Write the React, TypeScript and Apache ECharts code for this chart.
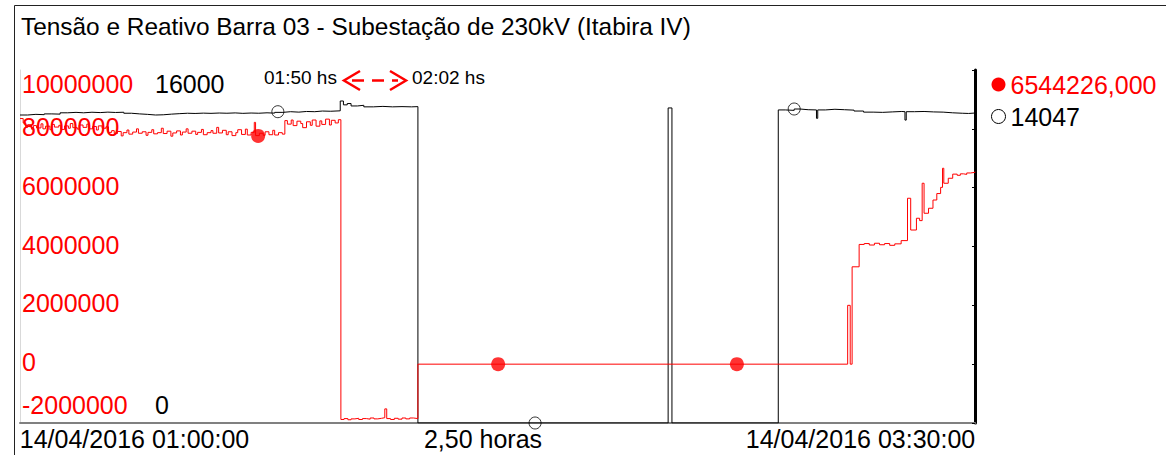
import React, { useEffect, useRef } from 'react';
import * as echarts from 'echarts';

const TITLE = 'Tensão e Reativo Barra 03 - Subestação de 230kV (Itabira IV)';
const FONT = "'Liberation Sans', Arial, sans-serif";

// x axis: minutes after 14/04/2016 01:00:00
const xRange = [0, 150];
const xTickValues = [0, 75, 150];
const xTickLabels = ['14/04/2016 01:00:00', '2,50 horas', '14/04/2016 03:30:00'];

const reactiveRange = [-2000000, 10000000];
const reactiveStep = 2000000;
const voltageRange = [0, 16000];

const annotationStart = '01:50 hs';
const annotationEnd = '02:02 hs';

// Reativo (red, left axis)
const reactive: [number, number][] = [
  [0, 8350000], [0.5, 8200000], [0.9, 8050000], [1.2, 8140000], [1.8, 7990000], [2.1, 8110000],
  [2.6, 8030000], [3.3, 8170000], [3.6, 8000000], [4.0, 8090000], [4.7, 7970000], [5.0, 8150000],
  [5.4, 8060000], [6.1, 8120000], [6.4, 7980000], [7.0, 8100000], [7.6, 8020000], [7.9, 8180000],
  [8.3, 8040000], [9.0, 7990000], [9.3, 8130000], [9.9, 8050000], [10.5, 8160000], [10.8, 8000000],
  [11.4, 8080000], [12.0, 7960000], [12.3, 8100000], [12.9, 8020000], [13.5, 8070000], [13.9, 7880000],
  [14.4, 7940000], [14.8, 7840000], [15.3, 7910000], [15.9, 7760000], [16.2, 7870000], [16.8, 7960000],
  [17.1, 7820000], [17.7, 7890000], [18.3, 8000000], [18.6, 7850000], [19.2, 7900000], [19.8, 7780000],
  [20.1, 7880000], [20.7, 7970000], [21.0, 7830000], [21.6, 7870000], [22.2, 8020000], [22.5, 7840000],
  [23.1, 7920000], [23.7, 7750000], [24.0, 7860000], [24.6, 7930000], [25.2, 7790000], [25.5, 7890000],
  [26.1, 8000000], [26.4, 7850000], [27.0, 7920000], [27.6, 7810000], [27.9, 7880000], [28.5, 7980000],
  [28.8, 7800000], [29.4, 7870000], [30.0, 7940000], [30.3, 7850000], [30.9, 8050000], [31.2, 7860000],
  [31.8, 7950000], [32.4, 7800000], [32.7, 7900000], [33.3, 7770000], [33.9, 7870000], [34.2, 7970000],
  [34.8, 7810000], [35.4, 7990000], [35.7, 7790000], [36.3, 7880000], [36.8, 8220000], [37.0, 7770000],
  [37.6, 7850000], [38.2, 7780000], [38.5, 7900000], [39.1, 7800000], [39.7, 7950000], [40.0, 7790000],
  [40.6, 7870000], [41.2, 7820000], [41.6, 8280000], [42.0, 8160000], [42.6, 8300000], [42.9, 8110000],
  [43.5, 8260000], [44.1, 8180000], [44.4, 8040000], [45.0, 8240000], [45.6, 8120000], [45.9, 8300000],
  [46.5, 8090000], [47.1, 8270000], [47.4, 8150000], [48.0, 8330000], [48.6, 8130000], [48.9, 8290000],
  [49.5, 8200000], [50.0, 8310000],
  [50.4, -1880000], [50.9, -1850000], [51.5, -1890000], [52.0, -1860000], [52.6, -1840000],
  [53.2, -1880000], [53.8, -1850000], [54.4, -1870000], [55.0, -1830000], [55.6, -1860000],
  [56.2, -1840000], [56.8, -1820000], [57.3, -1520000], [57.6, -1850000], [58.2, -1880000],
  [58.8, -1840000], [59.4, -1870000], [60.0, -1830000], [60.6, -1860000], [61.2, -1830000],
  [61.8, -1850000],
  [62.5, 0], [130.0, 2000000], [130.4, 0], [130.7, 3310000], [131.8, 4070000], [132.6, 4100000],
  [133.4, 4050000], [134.2, 4110000], [135.0, 4060000], [135.8, 4100000], [136.6, 4040000],
  [137.4, 4090000], [138.4, 4200000], [139.4, 5640000], [139.9, 4560000], [140.8, 4960000],
  [141.3, 4880000], [141.7, 6150000], [142.0, 5130000], [142.7, 5300000], [143.4, 5580000],
  [144.0, 5800000], [144.6, 6010000], [144.9, 6660000], [145.1, 6150000], [145.8, 6320000],
  [146.5, 6460000], [147.2, 6420000], [147.7, 6470000], [148.2, 6450000], [148.7, 6500000],
  [149.3, 6520000], [150, 6544226],
];

// Tensão (black, second axis)
const voltage: [number, number][] = [
  [0, 13960], [1.2, 13990], [2.5, 13975], [3.8, 14010], [5.0, 14000], [6.3, 14060], [7.5, 14080],
  [8.8, 14060], [10.0, 14085], [11.3, 14070], [12.6, 14090], [13.8, 14075], [15.0, 14085],
  [16.3, 14040], [17.5, 14010], [18.8, 13990], [20.0, 13960], [21.3, 13970], [22.5, 14000],
  [23.8, 14020], [25.0, 14040], [26.3, 14030], [27.5, 14045], [28.8, 14035], [30.0, 14050],
  [31.3, 14040], [32.5, 14055], [33.8, 14035], [35.0, 14050], [36.3, 14040], [37.5, 14060],
  [38.8, 14045], [40.0, 14080], [41.3, 14110], [42.5, 14090], [43.8, 14120], [45.0, 14110],
  [46.3, 14140], [47.5, 14130], [48.8, 14150], [50.3, 14595], [50.8, 14420], [51.4, 14480],
  [52.0, 14370], [53.0, 14400], [54.0, 14330], [55.5, 14350], [57.0, 14330], [58.5, 14340],
  [60.0, 14330], [61.5, 14340], [62.5, 0], [101.8, 14280], [102.4, 0], [119.1, 14190],
  [120.2, 14170], [121.6, 14232], [122.5, 14200], [123.8, 14190], [125.1, 13810], [125.3, 14190],
  [126.5, 14220], [128.0, 14200], [129.5, 14180], [131.0, 14140], [132.5, 14090], [134.0, 14080],
  [135.5, 14100], [137.0, 14120], [138.5, 14110], [139.0, 13730], [139.2, 14110], [140.5, 14120],
  [142.0, 14100], [143.5, 14090], [145.0, 14060], [146.5, 14040], [148.0, 14030], [149.0, 14050],
  [150, 14047],
];

const reactiveMarkers: [number, number][] = [[37.4, 7760000], [75.1, 0], [112.6, 0]];
const voltageMarkers: [number, number][] = [[40.5, 14110], [80.9, 0], [121.6, 14232]];

const RED = '#ff0000';

export default function App() {
  const ref = useRef<HTMLDivElement>(null);

  useEffect(() => {
    if (!ref.current) return;
    const chart = echarts.init(ref.current, null, { renderer: 'svg' });

    const redLast = reactive[reactive.length - 1][1];
    const blackLast = voltage[voltage.length - 1][1];

    const yLabelRich = (color: string) => ({
      t: { color, fontSize: 25, fontFamily: FONT, padding: [28, 0, 0, 0] },
      b: { color, fontSize: 25, fontFamily: FONT, padding: [0, 0, 37, 0] },
      m: { color, fontSize: 25, fontFamily: FONT, padding: [0, 0, 4, 0] },
    });
    const yLabelFmt = (min: number, max: number) => (v: number) => {
      if (v === max) return '{t|' + v + '}';
      if (v === min) return '{b|' + v + '}';
      return '{m|' + v + '}';
    };

    const option: any = {
      animation: false,
      backgroundColor: '#fff',
      title: {
        text: TITLE,
        left: 16,
        top: 9,
        textStyle: { fontSize: 24.4, fontWeight: 'normal', color: '#000', fontFamily: FONT },
      },
      legend: {
        left: 986,
        top: 67,
        orient: 'vertical',
        itemWidth: 14,
        itemHeight: 14,
        itemGap: 7,
        selectedMode: false,
        textStyle: { fontSize: 25, fontFamily: FONT },
        formatter: (name: string) =>
          name === 'Reativo' ? redLast.toFixed(3).replace('.', ',') : String(blackLast),
        data: [
          { name: 'Reativo', icon: 'circle', itemStyle: { color: RED }, textStyle: { color: RED } },
          {
            name: 'Tensão',
            icon: 'circle',
            itemStyle: { color: '#fff', borderColor: '#000', borderWidth: 1 },
            textStyle: { color: '#000' },
          },
        ],
      },
      grid: { left: 20, top: 70, right: 191, bottom: 32 },
      xAxis: {
        type: 'value',
        min: xRange[0],
        max: xRange[1],
        interval: 75,
        axisLine: { show: true, onZero: false, lineStyle: { color: '#808080', width: 2 } },
        axisTick: { show: false },
        splitLine: { show: false },
        axisLabel: {
          margin: 3,
          showMinLabel: true,
          showMaxLabel: true,
          formatter: (v: number) => {
            const i = xTickValues.indexOf(v);
            const key = ['a', 'b', 'c'][i];
            return '{' + key + '|' + xTickLabels[i] + '}';
          },
          rich: {
            a: { color: '#000', fontSize: 25, fontFamily: FONT, padding: [0, 0, 0, 229] },
            b: { color: '#000', fontSize: 25, fontFamily: FONT, padding: [0, 29, 0, 0] },
            c: { color: '#000', fontSize: 25, fontFamily: FONT, padding: [0, 229, 0, 0] },
          },
        },
      },
      yAxis: [
        {
          type: 'value',
          position: 'left',
          min: reactiveRange[0],
          max: reactiveRange[1],
          interval: reactiveStep,
          axisLine: { show: true, lineStyle: { color: '#d9d9d9', width: 1 } },
          axisTick: { show: false },
          splitLine: { show: false },
          axisLabel: {
            inside: true,
            margin: 2,
            formatter: yLabelFmt(reactiveRange[0], reactiveRange[1]),
            rich: yLabelRich(RED),
          },
        },
        {
          type: 'value',
          position: 'left',
          min: voltageRange[0],
          max: voltageRange[1],
          interval: voltageRange[1],
          axisLine: { show: false },
          axisTick: { show: false },
          splitLine: { show: false },
          axisLabel: {
            inside: true,
            margin: 135,
            formatter: yLabelFmt(voltageRange[0], voltageRange[1]),
            rich: yLabelRich('#000'),
          },
        },
        {
          type: 'value',
          position: 'right',
          min: reactiveRange[0],
          max: reactiveRange[1],
          interval: reactiveStep,
          axisLine: { show: true, lineStyle: { color: '#000', width: 3 } },
          axisTick: { show: true, inside: true, length: 3, lineStyle: { color: '#000' } },
          axisLabel: { show: false },
          splitLine: { show: false },
        },
      ],
      series: [
        {
          name: 'Tensão',
          type: 'line',
          yAxisIndex: 1,
          step: 'end',
          showSymbol: false,
          lineStyle: { color: '#000', width: 1 },
          itemStyle: { color: '#000' },
          data: voltage,
          z: 2,
        },
        {
          name: 'Reativo',
          type: 'line',
          yAxisIndex: 0,
          step: 'end',
          showSymbol: false,
          lineStyle: { color: RED, width: 1 },
          itemStyle: { color: RED },
          data: reactive,
          z: 3,
        },
        {
          name: 'ReativoMarcador',
          type: 'scatter',
          yAxisIndex: 0,
          symbol: 'circle',
          symbolSize: 14,
          itemStyle: { color: RED },
          data: reactiveMarkers,
          z: 5,
        },
        {
          name: 'TensaoMarcador',
          type: 'scatter',
          yAxisIndex: 1,
          symbol: 'circle',
          symbolSize: 12,
          itemStyle: { color: 'rgba(0,0,0,0)', borderColor: '#000', borderWidth: 1 },
          data: voltageMarkers,
          z: 5,
        },
      ],
      graphic: [
        { type: 'line', shape: { x1: 14.5, y1: 5.5, x2: 1166, y2: 5.5 }, style: { stroke: '#222', lineWidth: 1 } },
        { type: 'line', shape: { x1: 14.5, y1: 5.5, x2: 14.5, y2: 455 }, style: { stroke: '#222', lineWidth: 1 } },
        {
          type: 'text',
          left: 264,
          top: 68,
          style: { text: annotationStart, fill: '#000', fontSize: 19, fontFamily: FONT },
        },
        {
          type: 'text',
          left: 412,
          top: 68,
          style: { text: annotationEnd, fill: '#000', fontSize: 19, fontFamily: FONT },
        },
        {
          type: 'polyline',
          shape: { points: [[360, 71], [344, 80.5], [360, 90]] },
          style: { stroke: RED, lineWidth: 2.5, fill: 'none' },
        },
        {
          type: 'line',
          shape: { x1: 352, y1: 80.5, x2: 398, y2: 80.5 },
          style: { stroke: RED, lineWidth: 2.5, lineDash: [12, 8] },
        },
        {
          type: 'polyline',
          shape: { points: [[390, 71], [406, 80.5], [390, 90]] },
          style: { stroke: RED, lineWidth: 2.5, fill: 'none' },
        },
      ],
    };

    chart.setOption(option);
    return () => chart.dispose();
  }, []);

  return (
    <div
      ref={ref}
      style={{ position: 'fixed', left: 0, top: 0, width: 1166, height: 455, background: '#fff' }}
    />
  );
}
